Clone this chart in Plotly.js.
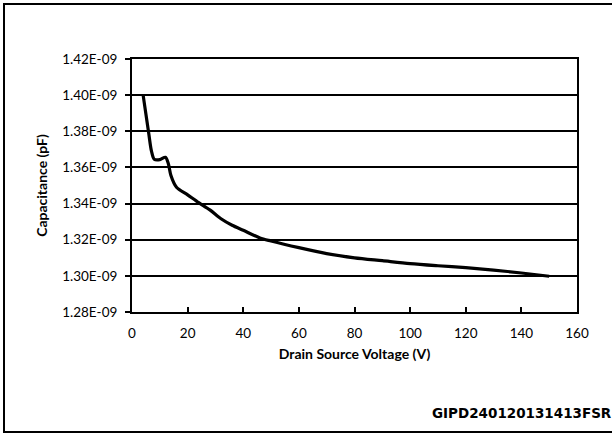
<!DOCTYPE html>
<html>
<head>
<meta charset="utf-8">
<script src="https://cdn.plot.ly/plotly-3.0.1.min.js"></script>
<style>
html,body{margin:0;padding:0;background:#fff;}
#wrap{position:relative;width:612px;height:433px;overflow:hidden;}
#chart{width:612px;height:433px;}
#frame{position:absolute;left:3px;top:3px;width:620px;height:430px;border:2px solid #000;box-sizing:border-box;pointer-events:none;}
</style>
</head>
<body>
<div id="wrap">
<div id="chart"></div>
<div id="frame"></div>
</div>
<script>
// Drain source voltage (V)
var voltage = [4, 6, 7, 8, 10, 12, 13, 14, 16, 20, 24, 28, 32, 36, 40, 46, 50, 60, 70, 80, 90, 100, 110, 120, 130, 140, 150];
// Capacitance
var capacitance = [1.400e-9, 1.379e-9, 1.369e-9, 1.3645e-9, 1.3643e-9, 1.3656e-9, 1.3625e-9, 1.3555e-9, 1.349e-9, 1.3448e-9, 1.3405e-9, 1.3365e-9, 1.3316e-9, 1.328e-9, 1.3252e-9, 1.321e-9, 1.3193e-9, 1.3156e-9, 1.3123e-9, 1.3100e-9, 1.3084e-9, 1.3068e-9, 1.3056e-9, 1.3045e-9, 1.3032e-9, 1.3016e-9, 1.2998e-9];
var yTicks = [1.28e-9, 1.30e-9, 1.32e-9, 1.34e-9, 1.36e-9, 1.38e-9, 1.40e-9, 1.42e-9];
var yTickText = ["1.28E-09", "1.30E-09", "1.32E-09", "1.34E-09", "1.36E-09", "1.38E-09", "1.40E-09", "1.42E-09"];
var xTicks = [0, 20, 40, 60, 80, 100, 120, 140, 160];
var xTitle = "Drain Source Voltage (V)";
var yTitle = "Capacitance (pF)";
var watermark = "GIPD240120131413FSR";

var tickFont = {family: "Lato, 'Open Sans', sans-serif", size: 13.5, color: "#000"};
var titleFont = {family: "Lato, 'Open Sans', sans-serif", size: 14, color: "#000", weight: "bold"};

var trace = {
  x: voltage, y: capacitance, type: "scatter", mode: "lines",
  line: {color: "#000", width: 3.2, shape: "spline", smoothing: 0.8},
  hoverinfo: "skip"
};

var layout = {
  width: 612, height: 433,
  margin: {l: 132, r: 35, t: 59, b: 121, pad: 0},
  paper_bgcolor: "#fff", plot_bgcolor: "#fff",
  showlegend: false,
  xaxis: {
    range: [0, 160], tickvals: xTicks, ticktext: xTicks.map(String),
    ticks: "inside", ticklen: 5, tickwidth: 2, tickcolor: "#000",
    showline: true, linecolor: "#000", linewidth: 2, mirror: true,
    showgrid: false, zeroline: false,
    tickfont: tickFont, ticklabelstandoff: 8,
    title: {text: "<b>" + xTitle + "</b>", font: titleFont, standoff: 9}
  },
  yaxis: {
    range: [1.28e-9, 1.42e-9], tickvals: yTicks, ticktext: yTickText,
    ticks: "outside", ticklen: 5, tickwidth: 2, tickcolor: "#000",
    showline: true, linecolor: "#000", linewidth: 2, mirror: true,
    showgrid: true, gridcolor: "#000", gridwidth: 2, zeroline: false,
    tickfont: tickFont, ticklabelstandoff: 5,
    title: {text: "<b>" + yTitle + "</b>", font: titleFont, standoff: 11}
  },
  annotations: [{
    xref: "paper", yref: "paper", x: 1.084, y: -0.398,
    xanchor: "right", yanchor: "middle", showarrow: false,
    text: "<b>" + watermark + "</b>",
    font: {family: "'DejaVu Sans', sans-serif", size: 13.5, color: "#000"}
  }]
};

Plotly.newPlot("chart", [trace], layout, {staticPlot: true, displayModeBar: false});
</script>
</body>
</html>
